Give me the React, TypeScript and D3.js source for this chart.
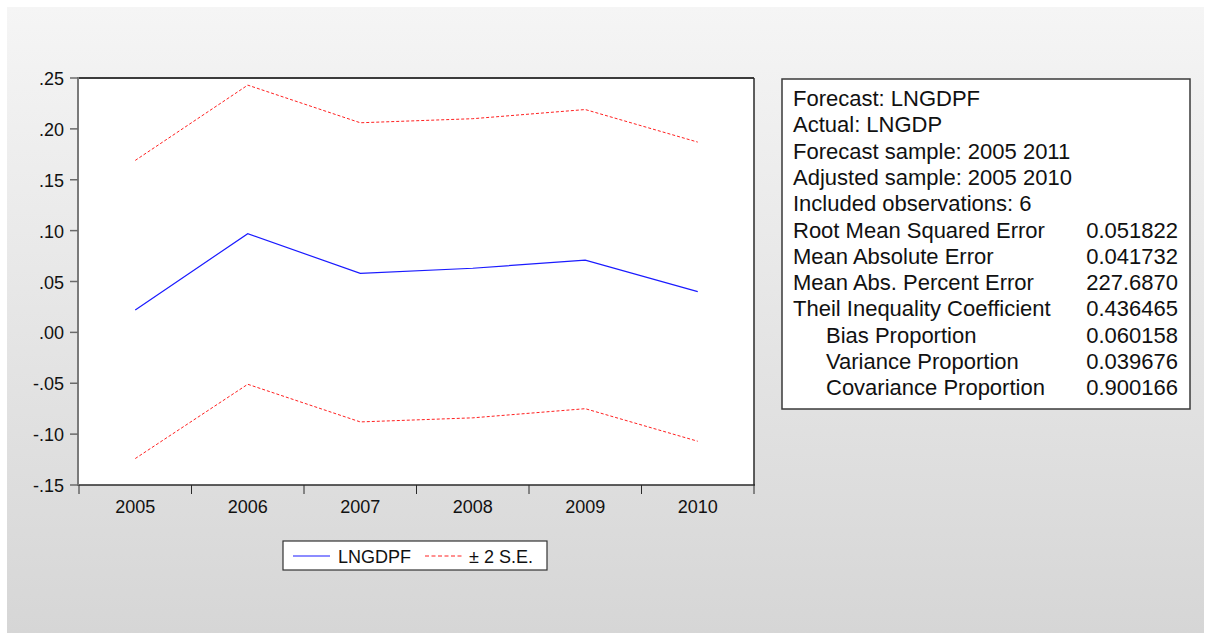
import React, { useEffect, useRef } from 'react'
import * as d3 from 'd3'

const years = ['2005', '2006', '2007', '2008', '2009', '2010']
const forecast = [0.022, 0.097, 0.058, 0.063, 0.071, 0.04]
const upperBand = [0.169, 0.243, 0.206, 0.21, 0.219, 0.187]
const lowerBand = [-0.124, -0.051, -0.088, -0.084, -0.075, -0.107]
const yTicks = [0.25, 0.2, 0.15, 0.1, 0.05, 0, -0.05, -0.1, -0.15]

const statLabels = [
  'Forecast: LNGDPF',
  'Actual: LNGDP',
  'Forecast sample: 2005 2011',
  'Adjusted sample: 2005 2010',
  'Included observations: 6',
  'Root Mean Squared Error',
  'Mean Absolute Error',
  'Mean Abs. Percent Error',
  'Theil Inequality Coefficient',
  'Bias Proportion',
  'Variance Proportion',
  'Covariance Proportion'
]
const statValues = ['', '', '', '', '', '0.051822', '0.041732', '227.6870', '0.436465', '0.060158', '0.039676', '0.900166']
const statIndent = [0, 0, 0, 0, 0, 0, 0, 0, 0, 1, 1, 1]

const FONT = '"Liberation Sans", Arial, sans-serif'

function App() {
  const ref = useRef<SVGSVGElement>(null)

  useEffect(() => {
    const width = 1205
    const height = 633
    const plot = { left: 78, top: 78, right: 754, bottom: 485 }

    const svg = d3.select(ref.current)
    svg.selectAll('*').remove()
    svg.attr('width', width).attr('height', height)

    // background panel with soft vertical gradient
    const defs = svg.append('defs')
    const grad = defs.append('linearGradient').attr('id', 'bg').attr('x1', 0).attr('y1', 0).attr('x2', 0).attr('y2', 1)
    grad.append('stop').attr('offset', '0%').attr('stop-color', '#f5f5f5')
    grad.append('stop').attr('offset', '100%').attr('stop-color', '#d6d6d6')

    svg.append('rect').attr('width', width).attr('height', height).attr('fill', '#ffffff')
    svg.append('rect').attr('x', 7).attr('y', 7).attr('width', width - 8).attr('height', height - 7).attr('fill', 'url(#bg)')

    const x = d3.scaleBand().domain(years).range([plot.left + 1, plot.right])
    const y = d3.scaleLinear().domain([-0.15, 0.25]).range([plot.bottom, plot.top])
    const cx = (d: string) => (x(d) as number) + x.bandwidth() / 2

    // plot area
    svg.append('rect')
      .attr('x', plot.left).attr('y', plot.top)
      .attr('width', plot.right - plot.left).attr('height', plot.bottom - plot.top)
      .attr('fill', '#ffffff')
    svg.append('line').attr('x1', plot.left).attr('x2', plot.right).attr('y1', plot.top).attr('y2', plot.top)
      .attr('stroke', '#3c3c3c').attr('stroke-width', 2)
    svg.append('line').attr('x1', plot.right).attr('x2', plot.right).attr('y1', plot.top).attr('y2', plot.bottom)
      .attr('stroke', '#2a2a2a').attr('stroke-width', 1.5)
    svg.append('line').attr('x1', plot.left).attr('x2', plot.right + 1).attr('y1', plot.bottom).attr('y2', plot.bottom)
      .attr('stroke', '#2a2a2a').attr('stroke-width', 1.5)
    svg.append('line').attr('x1', plot.left).attr('x2', plot.left).attr('y1', plot.top - 1).attr('y2', plot.bottom + 1)
      .attr('stroke', '#7a7a7a').attr('stroke-width', 2)

    // y axis ticks + labels (EViews style: ".25", "-.15", plain hyphen)
    const fmt = (v: number) => {
      const s = Math.abs(v).toFixed(2).replace(/^0/, '')
      return v < 0 ? '-' + s : s
    }
    const yg = svg.append('g')
    yTicks.forEach(t => {
      yg.append('line').attr('x1', plot.left - 8).attr('x2', plot.left).attr('y1', y(t)).attr('y2', y(t))
        .attr('stroke', '#6a6a6a').attr('stroke-width', 1.5)
      yg.append('text').attr('x', 64).attr('y', y(t) + 7)
        .attr('text-anchor', 'end').attr('font-family', FONT).attr('font-size', 18).attr('fill', '#111')
        .text(fmt(t))
    })

    // x axis ticks + labels
    const xg = svg.append('g')
    const edges = years.map(d => x(d) as number).concat([plot.right])
    edges.forEach(e => {
      xg.append('line').attr('x1', e).attr('x2', e).attr('y1', plot.bottom).attr('y2', plot.bottom + 9)
        .attr('stroke', '#2a2a2a').attr('stroke-width', 1)
    })
    years.forEach(d => {
      xg.append('text').attr('x', cx(d)).attr('y', 513)
        .attr('text-anchor', 'middle').attr('font-family', FONT).attr('font-size', 18).attr('fill', '#111')
        .text(d)
    })

    // series
    const line = d3.line<number>().x((_, i) => cx(years[i])).y(v => y(v))
    svg.append('path').attr('d', line(upperBand)).attr('fill', 'none')
      .attr('stroke', '#ff2020').attr('stroke-width', 1).attr('stroke-dasharray', '3,2')
    svg.append('path').attr('d', line(lowerBand)).attr('fill', 'none')
      .attr('stroke', '#ff2020').attr('stroke-width', 1).attr('stroke-dasharray', '3,2')
    svg.append('path').attr('d', line(forecast)).attr('fill', 'none')
      .attr('stroke', '#1a1aff').attr('stroke-width', 1.2)

    // legend
    const lg = svg.append('g')
    lg.append('rect').attr('x', 283).attr('y', 541).attr('width', 264).attr('height', 29)
      .attr('fill', '#fff').attr('stroke', '#333').attr('stroke-width', 1.2)
    lg.append('line').attr('x1', 293).attr('x2', 330).attr('y1', 556).attr('y2', 556)
      .attr('stroke', '#1a1aff').attr('stroke-width', 1.2)
    lg.append('text').attr('x', 338).attr('y', 563).attr('font-family', FONT).attr('font-size', 18).attr('fill', '#111')
      .text('LNGDPF')
    lg.append('line').attr('x1', 425).attr('x2', 463).attr('y1', 556).attr('y2', 556)
      .attr('stroke', '#ff2020').attr('stroke-width', 1).attr('stroke-dasharray', '4,2.5')
    lg.append('text').attr('x', 469).attr('y', 563).attr('font-family', FONT).attr('font-size', 18).attr('fill', '#111')
      .text('± 2 S.E.')

    // statistics box
    const sg = svg.append('g')
    sg.append('rect').attr('x', 782).attr('y', 79).attr('width', 408).attr('height', 330)
      .attr('fill', '#fff').attr('stroke', '#3a3a3a').attr('stroke-width', 1.5)
    statLabels.forEach((s, i) => {
      const by = 106 + i * 26.3
      sg.append('text').attr('x', statIndent[i] ? 826 : 793).attr('y', by)
        .attr('font-family', FONT).attr('font-size', 22).attr('fill', '#111').text(s)
      if (statValues[i]) {
        sg.append('text').attr('x', 1178).attr('y', by).attr('text-anchor', 'end')
          .attr('font-family', FONT).attr('font-size', 22).attr('fill', '#111').text(statValues[i])
      }
    })
  }, [])

  return <svg ref={ref} style={{ position: 'absolute', left: 0, top: 0, display: 'block' }} />
}

export default App
